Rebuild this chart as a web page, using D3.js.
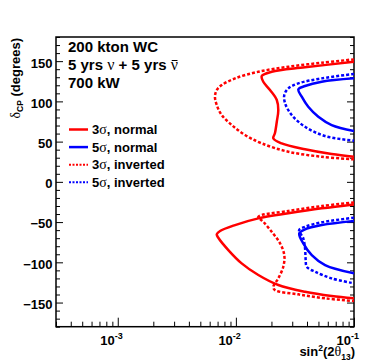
<!DOCTYPE html>
<html>
<head>
<meta charset="utf-8">
<script src="https://cdn.jsdelivr.net/npm/d3@7"></script>
<style>
  body { margin: 0; background: #fff; }
  svg text { font-family: "Liberation Sans", Arial, sans-serif; font-weight: bold; fill: #000; }
  .greek { font-family: "Liberation Serif", serif; font-weight: normal; }
</style>
</head>
<body>
<div id="main"></div>
<script>
// contour points: [sin^2(2theta13), deltaCP in degrees]
const normal3Upper = [[0.1,149.2],[0.0385,142.3],[0.0201,136.8],[0.01656,131.5],[0.01706,124.4],[0.01945,114.1],[0.0222,101.7],[0.02286,89.2],[0.0222,74.7],[0.0214,60.3],[0.02075,54.1],[0.0244,47.8],[0.0385,40.4],[0.0647,34.5],[0.1,31.2]];
const normal3Lower = [[0.1,-28.0],[0.0533,-32.9],[0.0278,-39.1],[0.01549,-45.4],[0.00984,-53.7],[0.00735,-61.1],[0.00689,-65.2],[0.0071,-69.5],[0.00863,-84.8],[0.01119,-101.3],[0.01549,-115.8],[0.02286,-128.2],[0.0385,-136.6],[0.0647,-141.9],[0.1,-144.8]];
const normal5Upper = [[0.1,128.6],[0.0533,124.4],[0.0385,119.1],[0.0338,115.0],[0.0361,105.8],[0.041,93.3],[0.0499,80.9],[0.0647,70.6],[0.1,63.1]];
const normal5Lower = [[0.1,-48.7],[0.0533,-53.7],[0.0385,-59.0],[0.0344,-64.0],[0.0372,-76.4],[0.0439,-91.0],[0.0569,-103.4],[0.1,-113.7]];
const inverted3Upper = [[0.1,152.2],[0.0533,148.0],[0.0278,143.0],[0.01549,136.8],[0.00984,128.6],[0.00759,120.3],[0.00689,114.1],[0.00665,105.8],[0.00689,95.4],[0.00759,83.0],[0.00923,70.6],[0.01194,58.2],[0.01656,47.8],[0.0278,37.4],[0.0533,31.2],[0.1,28.0]];
const inverted3Lower = [[0.1,-25.5],[0.0533,-30.1],[0.0278,-36.3],[0.01549,-43.4],[0.01706,-49.6],[0.0201,-62.0],[0.02366,-76.4],[0.0257,-91.0],[0.0252,-105.5],[0.02286,-119.9],[0.02075,-130.4],[0.0214,-134.5],[0.0338,-139.8],[0.0569,-144.8],[0.1,-148.1]];
const inverted5Upper = [[0.1,134.0],[0.0533,128.6],[0.0338,122.4],[0.0278,116.2],[0.0257,107.9],[0.0261,97.6],[0.0297,83.0],[0.0385,68.5],[0.0569,56.9],[0.1,51.1]];
const inverted5Lower = [[0.1,-44.6],[0.0533,-50.3],[0.0385,-55.8],[0.0343,-59.9],[0.0372,-70.2],[0.0385,-82.6],[0.039,-97.2],[0.0398,-105.5],[0.0468,-111.7],[0.0647,-119.9],[0.1,-126.1]];

const yMajorTicks = [-150, -100, -50, 0, 50, 100, 150];
const xMajorTicks = [1e-3, 1e-2, 1e-1];
const xMajorExp = ["-3", "-2", "-1"];
const legendLabels = [["3", "σ", ", normal"], ["5", "σ", ", normal"], ["3", "σ", ", inverted"], ["5", "σ", ", inverted"]];

const width = 374;
const height = 363;
const plotLeft = 56, plotRight = 354, plotTop = 37, plotBottom = 326.7;

const x = d3.scaleLog().domain([3e-4, 0.1]).range([plotLeft, plotRight]);
const y = d3.scaleLinear().domain([-180, 180]).range([plotBottom, plotTop]);

const svg = d3.select("#main")
  .append("svg")
  .attr("width", width)
  .attr("height", height);

svg.append("rect").attr("width", width).attr("height", height).attr("fill", "#fff");

svg.append("clipPath").attr("id", "clip")
  .append("rect")
  .attr("x", plotLeft).attr("y", plotTop)
  .attr("width", plotRight - plotLeft).attr("height", plotBottom - plotTop);

// minor ticks
const yMinorTicks = d3.range(-180, 181, 10).filter(v => v % 50 !== 0);
const xMinorTicks = [];
[1e-4, 1e-3, 1e-2].forEach(dec => {
  for (let k = 2; k <= 9; k++) {
    const v = k * dec;
    if (v >= 3e-4 && v <= 0.1) xMinorTicks.push(v);
  }
});

const styleAxis = g => {
  g.select(".domain").remove();
  g.selectAll("line").attr("stroke", "#000").attr("stroke-width", 1);
};

svg.append("g")
  .attr("transform", `translate(${plotLeft},0)`)
  .call(d3.axisLeft(y).tickValues(yMinorTicks).tickSize(-4).tickFormat(""))
  .call(styleAxis);

svg.append("g")
  .attr("transform", `translate(${plotLeft},0)`)
  .call(d3.axisLeft(y).tickValues(yMajorTicks).tickSize(-7).tickPadding(3.5).tickFormat(d3.format("d")))
  .call(styleAxis)
  .call(g => g.selectAll("text")
    .attr("dy", "0.45em")
    .style("font-size", "13px")
    .style("font-family", "Liberation Sans, Arial, sans-serif")
    .style("font-weight", "bold"));

svg.append("g")
  .attr("transform", `translate(${plotRight},0)`)
  .call(d3.axisRight(y).tickValues(yMinorTicks).tickSize(-4).tickFormat(""))
  .call(styleAxis);

svg.append("g")
  .attr("transform", `translate(${plotRight},0)`)
  .call(d3.axisRight(y).tickValues(yMajorTicks).tickSize(-7).tickFormat(""))
  .call(styleAxis);

svg.append("g")
  .attr("transform", `translate(0,${plotBottom})`)
  .call(d3.axisBottom(x).tickValues(xMinorTicks).tickSize(-5).tickFormat(""))
  .call(styleAxis);

svg.append("g")
  .attr("transform", `translate(0,${plotBottom})`)
  .call(d3.axisBottom(x).tickValues(xMajorTicks).tickSize(-9).tickFormat(""))
  .call(styleAxis);

// x tick labels 10^n
xMajorTicks.forEach((v, i) => {
  const t = svg.append("text")
    .attr("x", x(v) + 5)
    .attr("y", 345)
    .attr("text-anchor", "end")
    .style("font-size", "13px");
  t.append("tspan").text("10");
  t.append("tspan").attr("dy", -6).style("font-size", "9px").text(xMajorExp[i]);
});

// frame
svg.append("rect")
  .attr("x", plotLeft).attr("y", plotTop)
  .attr("width", plotRight - plotLeft).attr("height", plotBottom - plotTop)
  .attr("fill", "none")
  .attr("stroke", "#000")
  .attr("stroke-width", 1.5);

// contours
const line = d3.line()
  .x(d => x(d[0]))
  .y(d => y(d[1]))
  .curve(d3.curveCatmullRom.alpha(0.5));

const curves = [
  { data: normal3Upper, color: "#ff0000", dash: null },
  { data: normal3Lower, color: "#ff0000", dash: null },
  { data: inverted3Upper, color: "#ff0000", dash: "3,2" },
  { data: inverted3Lower, color: "#ff0000", dash: "3,2" },
  { data: normal5Upper, color: "#0000ff", dash: null },
  { data: normal5Lower, color: "#0000ff", dash: null },
  { data: inverted5Upper, color: "#0000ff", dash: "3,2" },
  { data: inverted5Lower, color: "#0000ff", dash: "3,2" }
];

svg.append("g")
  .attr("clip-path", "url(#clip)")
  .selectAll("path")
  .data(curves)
  .enter()
  .append("path")
  .attr("d", d => line(d.data))
  .attr("fill", "none")
  .attr("stroke", d => d.color)
  .attr("stroke-width", 2.5)
  .attr("stroke-dasharray", d => d.dash);

// header text
svg.append("text").attr("x", 68).attr("y", 52).style("font-size", "15px").text("200 kton WC");
const l2 = svg.append("text").attr("x", 68).attr("y", 70).style("font-size", "15px");
l2.append("tspan").text("5 yrs ");
l2.append("tspan").attr("class", "greek").style("font-size", "16px").text("ν");
l2.append("tspan").text(" + 5 yrs ");
l2.append("tspan").attr("class", "greek").style("font-size", "16px").text("ν");
// bar over the last nu (antineutrino)
const nChars = l2.node().getNumberOfChars();
const barBox = l2.node().getExtentOfChar(nChars - 1);
svg.append("line")
  .attr("x1", barBox.x + 1).attr("x2", barBox.x + barBox.width - 0.5)
  .attr("y1", 60.5).attr("y2", 60.5)
  .attr("stroke", "#000").attr("stroke-width", 1);
svg.append("text").attr("x", 68).attr("y", 88).style("font-size", "15px").text("700 kW");

// legend
const legendColors = ["#ff0000", "#0000ff", "#ff0000", "#0000ff"];
const legendDash = [null, null, "2,1.5", "2,1.5"];
const legend = svg.append("g")
  .selectAll("g")
  .data(legendLabels)
  .enter()
  .append("g")
  .attr("transform", (d, i) => `translate(0,${129.5 + i * 17.6})`);

legend.append("line")
  .attr("x1", 69).attr("x2", 88)
  .attr("stroke", (d, i) => legendColors[i])
  .attr("stroke-width", (d, i) => i < 2 ? 2.5 : 2)
  .attr("stroke-dasharray", (d, i) => legendDash[i]);

const lt = legend.append("text")
  .attr("x", 92).attr("y", 4.5)
  .style("font-size", "13px");
lt.append("tspan").text(d => d[0]);
lt.append("tspan").attr("class", "greek").style("font-size", "14px").text(d => d[1]);
lt.append("tspan").text(d => d[2]);

// axis titles
const xt = svg.append("text")
  .attr("x", 355).attr("y", 356)
  .attr("text-anchor", "end")
  .style("font-size", "13px");
xt.append("tspan").text("sin");
xt.append("tspan").attr("dy", -5).style("font-size", "8.5px").text("2");
xt.append("tspan").attr("dy", 5).text("(2");
xt.append("tspan").attr("class", "greek").style("font-size", "14px").text("θ");
xt.append("tspan").attr("dy", 4).style("font-size", "8.5px").text("13");
xt.append("tspan").attr("dy", -4).text(")");

const yt = svg.append("text")
  .attr("transform", "translate(20,38) rotate(-90)")
  .attr("text-anchor", "end")
  .style("font-size", "13px");
yt.append("tspan").attr("class", "greek").style("font-size", "14px").text("δ");
yt.append("tspan").attr("dy", 3).style("font-size", "8.5px").text("CP");
yt.append("tspan").attr("dy", -3).text(" (degrees)");
</script>
</body>
</html>
